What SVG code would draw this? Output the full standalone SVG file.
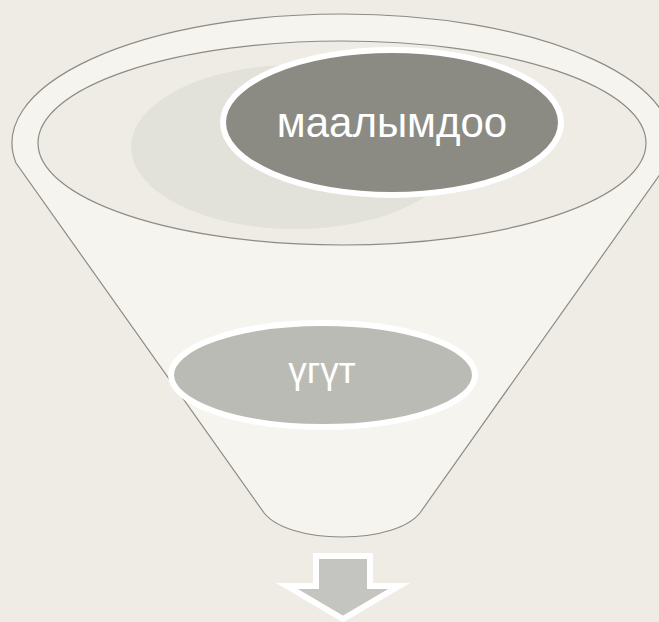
<svg xmlns="http://www.w3.org/2000/svg" width="659" height="622" viewBox="0 0 659 622">
<style>
.line{stroke:#8C8B85;stroke-width:1.2}
.node{stroke:#FFFFFF;stroke-width:6}
.lbl{font-family:"Liberation Sans",Arial,sans-serif;fill:#FFFFFF;text-anchor:middle}
</style>
<rect x="0" y="0" width="659" height="622" fill="#EEECE5"/>
<g id="funnel">
<path class="line" d="M16,163 A330,129 0 1 1 668,163 L422,510 C400,546 284,546 262,510 Z" fill="#F5F4EF"/>
<ellipse class="line" cx="342" cy="143" rx="304" ry="102" fill="#EEECE5"/>
<ellipse cx="295" cy="147" rx="164" ry="82" fill="#E3E2DA"/>
</g>
<g id="node-maalymdoo">
<ellipse class="node" cx="392" cy="122.5" rx="169" ry="72.5" fill="#8B8B84"/>
<text class="lbl" x="392" y="137" font-size="42">маалымдоо</text>
</g>
<g id="node-ugut">
<ellipse class="node" cx="323" cy="375" rx="152" ry="52" fill="#BBBBB6"/>
<text class="lbl" x="322" y="383" font-size="37">үгүт</text>
</g>
<g id="connectors">
<path d="M316,556 H370 V586 H399 L343,619 L287,586 H316 Z" fill="#C4C4C0" stroke="#FFFFFF" stroke-width="6" stroke-linejoin="miter"/>
</g>
</svg>
